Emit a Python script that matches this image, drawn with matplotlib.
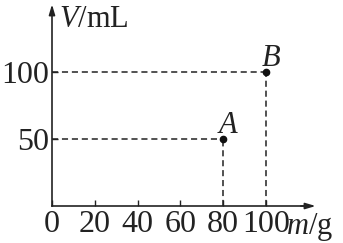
import matplotlib
matplotlib.use("Agg")
import matplotlib.pyplot as plt

plt.rcParams["font.family"] = "Liberation Serif"
plt.rcParams["mathtext.fontset"] = "custom"
plt.rcParams["mathtext.rm"] = "Liberation Serif"
plt.rcParams["mathtext.it"] = "Liberation Serif:italic"

# 数据
x_ticks = [0, 20, 40, 60, 80, 100]
y_ticks = [50, 100]
point_names = ["A", "B"]
mass = [80, 100]
volume = [50, 100]

fig = plt.figure(figsize=(3.43, 2.43), dpi=100)
ax = fig.add_axes([0, 0, 1, 1])
ax.set_xlim(-24.3, 136)
ax.set_ylim(-27.5, 153.2)

for s in ["top", "right"]:
    ax.spines[s].set_visible(False)
ax.spines["left"].set_position(("data", 0))
ax.spines["bottom"].set_position(("data", 0))
ax.spines["left"].set_bounds(0, 147)
ax.spines["bottom"].set_bounds(0, 120)
for s in ["left", "bottom"]:
    ax.spines[s].set_linewidth(1.2)
    ax.spines[s].set_color("#222222")

# 箭头
ax.annotate("", xy=(0, 152), xytext=(0, 140),
            arrowprops=dict(arrowstyle="-|>,head_length=0.6,head_width=0.18", color="#222222", lw=1.2))
ax.annotate("", xy=(124.5, 0), xytext=(115, 0),
            arrowprops=dict(arrowstyle="-|>,head_length=0.6,head_width=0.18", color="#222222", lw=1.2))

ax.set_xticks(x_ticks)
ax.set_xticklabels([str(v) for v in x_ticks])
ax.set_yticks(y_ticks)
ax.set_yticklabels([str(v) for v in y_ticks])
ax.tick_params(axis="both", direction="in", length=4, width=1, labelsize=23, colors="#222222")
ax.tick_params(axis="x", pad=3)
ax.tick_params(axis="y", pad=2)

# 虚线和点
for name, m, v in zip(point_names, mass, volume):
    ax.plot([0, m], [v, v], ls=(0, (4, 2.5)), color="#222222", lw=1.1)
    ax.plot([m, m], [0, v], ls=(0, (4, 2.5)), color="#222222", lw=1.1)
    ax.plot(m, v, "o", color="#111111", ms=4.5)
    ax.text(m + 2.5, v + 4, f"${name}$", fontsize=22, ha="center", va="baseline", color="#222222")

ax.text(3.5, 133, "$V$/mL", fontsize=22, ha="left", va="baseline", color="#222222")
ax.text(109.5, -20.5, "$m$/g", fontsize=22, ha="left", va="baseline", color="#222222")

fig.savefig("out.png", dpi=100)
